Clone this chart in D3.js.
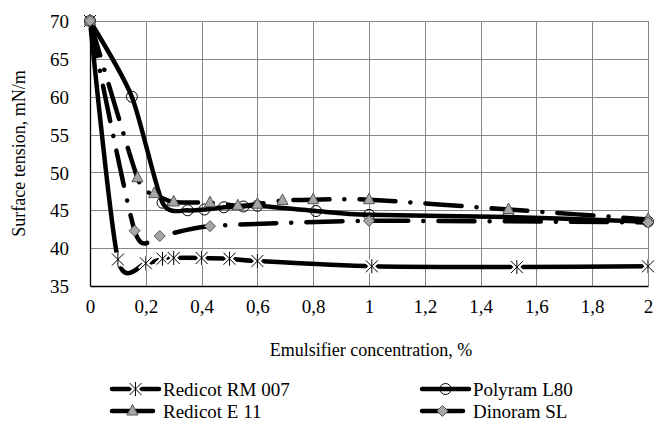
<!DOCTYPE html>
<html>
<head>
<meta charset="utf-8">
<script src="https://cdn.jsdelivr.net/npm/d3@7"></script>
<style>
  body { margin: 0; background: #fff; }
  svg text { font-family: "Liberation Serif", "Times New Roman", Times, "DejaVu Serif", serif; fill: #000; }
</style>
</head>
<body>
<div id="chart"></div>
<script>
// values (surface tension vs emulsifier concentration)
var rmX = [0, 0.1, 0.2, 0.26, 0.3, 0.4, 0.5, 0.6, 1.01, 1.53, 2];
var rmY = [70, 38.5, 38, 38.6, 38.7, 38.7, 38.6, 38.3, 37.6, 37.5, 37.6];

var polyX = [0, 0.15, 0.26, 0.35, 0.41, 0.48, 0.55, 0.6, 0.81, 1.0, 1.5, 2];
var polyY = [70, 60, 46, 45, 45.1, 45.4, 45.5, 45.6, 44.9, 44.4, 44.1, 43.5];

var e11X = [0, 0.17, 0.23, 0.3, 0.43, 0.53, 0.6, 0.69, 0.8, 1.0, 1.5, 2];
var e11Y = [70, 49.3, 47.2, 46.1, 46, 45.6, 45.8, 46.3, 46.4, 46.4, 45.1, 43.8];

var dinoX = [0, 0.16, 0.25, 0.43, 1.0, 2];
var dinoY = [70, 42.3, 41.6, 42.9, 43.6, 43.4];

var seriesNames = ["Redicot RM 007", "Polyram  L80", "Redicot E 11", "Dinoram SL"];
var xTicks = [0, 0.2, 0.4, 0.6, 0.8, 1, 1.2, 1.4, 1.6, 1.8, 2];
var yTicks = [35, 40, 45, 50, 55, 60, 65, 70];

var W = 656, H = 424
  , margin = {top: 21, right: 8, bottom: 138, left: 90}
  , innerW = W - margin.left - margin.right
  , innerH = H - margin.top - margin.bottom
  , gridColor = "#868686"
  , markFill = "#a6a6a6"
  , serif = "'Liberation Serif', 'Times New Roman', Times, 'DejaVu Serif', serif"
  , dashDot = "36,15,0.1,15";

var series = [
  {name: seriesNames[0], xs: rmX, ys: rmY, marker: "star", dash: null},
  {name: seriesNames[1], xs: polyX, ys: polyY, marker: "circle", dash: null},
  {name: seriesNames[2], xs: e11X, ys: e11Y, marker: "triangle", dash: dashDot},
  {name: seriesNames[3], xs: dinoX, ys: dinoY, marker: "diamond", dash: dashDot}
];

var xScale = d3.scaleLinear().domain([0, 2]).range([0, innerW]);
var yScale = d3.scaleLinear().domain([35, 70]).range([innerH, 0]);

var svg = d3.select("#chart").append("svg")
    .attr("width", W)
    .attr("height", H)
    .attr("font-family", serif);

var g = svg.append("g")
    .attr("transform", "translate(" + margin.left + "," + margin.top + ")");

// grid
g.append("g").selectAll("line.v").data(xTicks.slice(1)).enter().append("line")
    .attr("x1", function(d) { return Math.round(xScale(d)) + 0.5; })
    .attr("x2", function(d) { return Math.round(xScale(d)) + 0.5; })
    .attr("y1", 0).attr("y2", innerH)
    .style("stroke", gridColor).style("stroke-width", 1);

g.append("g").selectAll("line.h").data(yTicks.slice(1)).enter().append("line")
    .attr("y1", function(d) { return Math.round(yScale(d)) + 0.5; })
    .attr("y2", function(d) { return Math.round(yScale(d)) + 0.5; })
    .attr("x1", 0).attr("x2", innerW)
    .style("stroke", gridColor).style("stroke-width", 1);

// axes (black lines, no tick marks)
var xAxis = g.append("g")
    .attr("transform", "translate(0," + innerH + ")")
    .call(d3.axisBottom(xScale).tickValues(xTicks).tickSize(0).tickPadding(14)
        .tickFormat(function(d) { return String(d).replace(".", ","); }));
var yAxis = g.append("g")
    .call(d3.axisLeft(yScale).tickValues(yTicks).tickSize(0).tickPadding(21));

[xAxis, yAxis].forEach(function(ax) {
    ax.attr("font-family", serif).attr("font-size", 19);
    ax.select(".domain").style("stroke", "#000").style("stroke-width", 1.3);
    ax.selectAll("text").style("font-size", "19px").style("font-family", serif);
});
xAxis.selectAll("text").attr("dy", "0.71em");
yAxis.selectAll("text").attr("dy", "0.35em");

// axis titles
svg.append("text")
    .attr("transform", "translate(25," + (margin.top + innerH / 2) + ") rotate(-90)")
    .attr("text-anchor", "middle")
    .style("font-size", "18px")
    .text("Surface tension, mN/m");

svg.append("text")
    .attr("x", 371).attr("y", 356)
    .attr("text-anchor", "middle")
    .style("font-size", "18px")
    .text("Emulsifier concentration, %");

function drawMarker(sel, type) {
    if (type === "star") {
        var s = 6;
        var p = "M" + (-s) + "," + (-s) + "L" + s + "," + s +
                "M" + (-s) + "," + s + "L" + s + "," + (-s) +
                "M0," + (-s - 1) + "L0," + (s + 1);
        sel.append("path").attr("d", p).style("stroke", "#fff").style("stroke-width", 5).style("fill", "none");
        sel.append("path").attr("d", p).style("stroke", "#000").style("stroke-width", 1).style("fill", "none");
    } else if (type === "circle") {
        sel.append("circle").attr("r", 5.5)
            .style("fill", "none").style("stroke", "#000").style("stroke-width", 1);
    } else if (type === "triangle") {
        sel.append("path").attr("d", "M0,-6.5L5.5,4L-5.5,4Z")
            .style("fill", markFill).style("stroke", "#555").style("stroke-width", 1);
    } else if (type === "diamond") {
        sel.append("path").attr("d", "M0,-5.5L5.5,0L0,5.5L-5.5,0Z")
            .style("fill", markFill).style("stroke", "#555").style("stroke-width", 1);
    }
}

var line = d3.line()
    .x(function(d) { return xScale(d[0]); })
    .y(function(d) { return yScale(d[1]); })
    .curve(d3.curveCardinal.tension(0.3));

series.forEach(function(s) {
    var pts = s.xs.map(function(x, i) { return [x, s.ys[i]]; });
    var sg = g.append("g");
    sg.append("path")
        .datum(pts)
        .attr("d", line)
        .style("fill", "none")
        .style("stroke", "#000")
        .style("stroke-width", 4.5)
        .style("stroke-linecap", "round")
        .style("stroke-dasharray", s.dash);
    sg.selectAll("g.m").data(pts).enter().append("g")
        .attr("transform", function(d) { return "translate(" + xScale(d[0]) + "," + yScale(d[1]) + ")"; })
        .each(function() { drawMarker(d3.select(this), s.marker); });
});

// legend
var legendPos = [
    {x: 112, y: 389, len: 47},
    {x: 422, y: 389, len: 47},
    {x: 112, y: 411, len: 41},
    {x: 422, y: 411, len: 41}
];
series.forEach(function(s, i) {
    var p = legendPos[i];
    var lg = svg.append("g");
    lg.append("line")
        .attr("x1", p.x).attr("x2", p.x + p.len)
        .attr("y1", p.y).attr("y2", p.y)
        .style("stroke", "#000").style("stroke-width", 4.5).style("stroke-linecap", "round");
    var m = lg.append("g").attr("transform", "translate(" + (p.x + p.len / 2) + "," + p.y + ")");
    drawMarker(m, s.marker);
    lg.append("text")
        .attr("x", 473 - (i % 2 === 0 ? 310 : 0))
        .attr("y", p.y)
        .attr("dy", "0.35em")
        .style("font-size", "19px")
        .text(s.name);
});
</script>
</body>
</html>
